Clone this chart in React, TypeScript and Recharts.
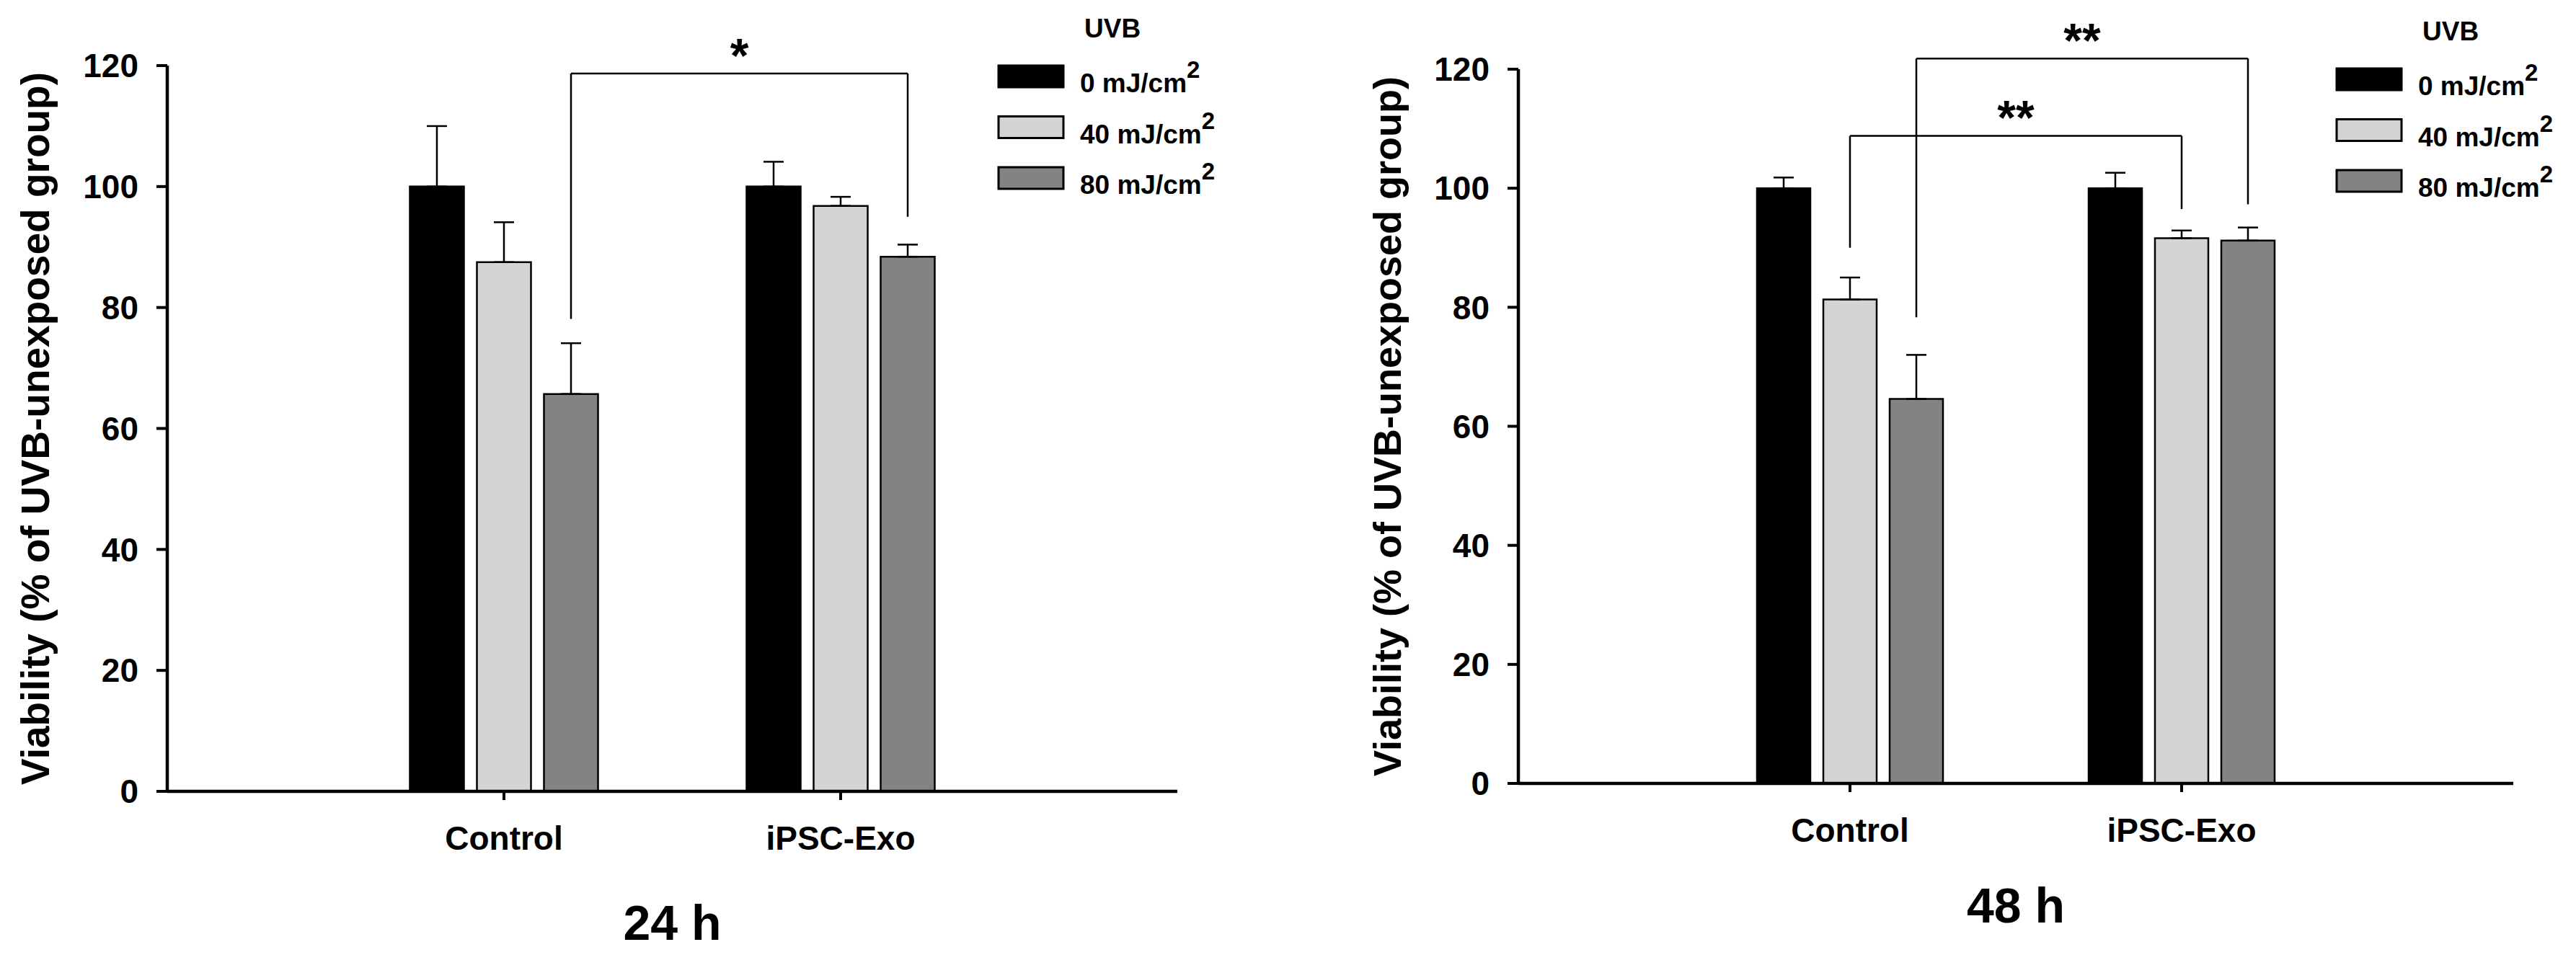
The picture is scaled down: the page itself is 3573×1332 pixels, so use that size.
import React from 'react';
import { BarChart, Bar, XAxis, YAxis, ErrorBar, ReferenceLine, ReferenceDot, Legend } from 'recharts';

const FONT = '"Liberation Sans", Arial, Helvetica, sans-serif';

// categories
const groups = ['Control', 'iPSC-Exo'];
const groupPositions = [1, 2];
const doses = ['0', '40', '80'];
const doseColors = ['#000000', '#d4d4d4', '#838383'];
const yTicks = [0, 20, 40, 60, 80, 100, 120];

// 24 h : mean viability (% of UVB-unexposed) per group, one array per UVB dose
const mean24_0 = [100, 100];
const mean24_40 = [87.5, 96.8];
const mean24_80 = [65.7, 88.4];
const err24_0 = [10.0, 4.1];
const err24_40 = [6.6, 1.5];
const err24_80 = [8.4, 2.0];

// 48 h
const mean48_0 = [100, 100];
const mean48_40 = [81.3, 91.6];
const mean48_80 = [64.6, 91.2];
const err48_0 = [1.8, 2.6];
const err48_40 = [3.7, 1.3];
const err48_80 = [7.4, 2.2];

// significance brackets: [group, dose] endpoints, bracket level, leg ends, mark
const brackets24 = [
  { from: [0, 2], to: [1, 2], y: 118.7, yFrom: 78.1, yTo: 95.0, mark: '*' },
];
const brackets48 = [
  { from: [0, 1], to: [1, 1], y: 108.8, yFrom: 90.0, yTo: 96.5, mark: '**' },
  { from: [0, 2], to: [1, 2], y: 121.8, yFrom: 78.3, yTo: 97.3, mark: '**' },
];

const BAR_GAP = 18;
const H = 1332;

type PanelProps = {
  left: number;
  width: number;
  plotLeft: number;
  plotRight: number;
  plotTop: number;
  plotBottom: number;
  barSize: number;
  means: number[][];
  errs: number[][];
  brackets: { from: number[]; to: number[]; y: number; yFrom: number; yTo: number; mark: string }[];
  subtitle: string;
  titleBaselineX: number;
  titleSize: number;
  subBaseline: number;
  legendLeft: number;
  legendTop: number;
};

const tickStyle = { fill: '#000', fontSize: 46, fontWeight: 700, fontFamily: FONT };

function renderLegend(props: any) {
  const payload = props.payload || [];
  return (
    <svg width={420} height={300} style={{ display: 'block', overflow: 'visible' }}>
      <text x={124} y={52} fontSize={37} fontWeight={700} fontFamily={FONT} fill="#000">
        UVB
      </text>
      {payload.map((p: any, i: number) => {
        const label = String(p.value);
        const base = label.replace('²', '');
        return (
          <g key={i}>
            <rect x={5} y={91 + i * 70.5} width={90} height={30} fill={doseColors[i]} stroke="#000" strokeWidth={3} />
            <text x={118} y={128 + i * 70.5} fontSize={37} fontWeight={700} fontFamily={FONT} fill="#000">
              {base}
              <tspan dy={-20} fontSize={33}>2</tspan>
            </text>
          </g>
        );
      })}
    </svg>
  );
}

function Panel(p: PanelProps) {
  const data = groups.map((g, i) => {
    const row: any = { x: groupPositions[i], name: g };
    doses.forEach((d, k) => {
      row['v' + k] = p.means[k][i];
      row['e' + k] = [0, p.errs[k][i]];
    });
    return row;
  });
  const unit = (p.plotRight - p.plotLeft) / 3;
  const step = (p.barSize + BAR_GAP) / unit;
  const xOf = (gs: number[]) => groupPositions[gs[0]] + (gs[1] - 1) * step;

  return (
    <div style={{ position: 'absolute', left: p.left, top: 0, width: p.width, height: H }}>
      <BarChart
        width={p.width}
        height={H}
        data={data}
        margin={{ top: p.plotTop, right: p.left + p.width - p.plotRight, bottom: 0, left: 0 }}
        barGap={BAR_GAP}
        barSize={p.barSize}
      >
        <XAxis
          dataKey="x"
          type="number"
          domain={[0, 3]}
          ticks={groupPositions}
          interval={0}
          tickFormatter={(v: number) => groups[groupPositions.indexOf(v)] ?? ''}
          height={H - p.plotBottom}
          axisLine={{ stroke: '#000', strokeWidth: 4.5 }}
          tickLine={{ stroke: '#000', strokeWidth: 4 }}
          tickSize={12}
          tickMargin={36}
          tick={tickStyle}
          label={{
            content: (lp: any) => {
              const vb = lp.viewBox || {};
              return (
                <text
                  x={vb.x + vb.width / 2}
                  y={vb.y + p.subBaseline}
                  textAnchor="middle"
                  fontSize={68}
                  fontWeight={700}
                  fontFamily={FONT}
                  fill="#000"
                >
                  {p.subtitle}
                </text>
              );
            },
          }}
        />
        <YAxis
          type="number"
          domain={[0, 120]}
          ticks={yTicks}
          interval={0}
          width={p.plotLeft - p.left}
          axisLine={{ stroke: '#000', strokeWidth: 4.5 }}
          tickLine={{ stroke: '#000', strokeWidth: 4 }}
          tickSize={15}
          tickMargin={25}
          tick={tickStyle}
          label={{
            content: (lp: any) => {
              const vb = lp.viewBox || {};
              const cy = vb.y + vb.height / 2;
              const cx = p.titleBaselineX;
              return (
                <text
                  x={cx}
                  y={cy}
                  transform={`rotate(-90, ${cx}, ${cy})`}
                  textAnchor="middle"
                  fontSize={p.titleSize}
                  fontWeight={700}
                  fontFamily={FONT}
                  fill="#000"
                >
                  Viability (% of UVB-unexposed group)
                </text>
              );
            },
          }}
        />
        {doses.map((d, k) => (
          <Bar
            key={d}
            dataKey={'v' + k}
            name={`${d} mJ/cm²`}
            fill={doseColors[k]}
            stroke="#000"
            strokeWidth={2.5}
            isAnimationActive={false}
          >
            <ErrorBar dataKey={'e' + k} width={14} strokeWidth={2.5} stroke="#000" direction="y" />
          </Bar>
        ))}
        {p.brackets.map((b, i) => {
          const x1 = xOf(b.from);
          const x2 = xOf(b.to);
          return [
            <ReferenceLine
              key={`l${i}`}
              segment={[{ x: x1, y: b.yFrom }, { x: x1, y: b.y }]}
              stroke="#000"
              strokeWidth={2.5}
              ifOverflow="visible"
            />,
            <ReferenceLine
              key={`h${i}`}
              segment={[{ x: x1, y: b.y }, { x: x2, y: b.y }]}
              stroke="#000"
              strokeWidth={2.5}
              ifOverflow="visible"
            />,
            <ReferenceLine
              key={`r${i}`}
              segment={[{ x: x2, y: b.y }, { x: x2, y: b.yTo }]}
              stroke="#000"
              strokeWidth={2.5}
              ifOverflow="visible"
            />,
            <ReferenceDot
              key={`m${i}`}
              x={(x1 + x2) / 2}
              y={b.y}
              r={0}
              fill="none"
              stroke="none"
              ifOverflow="visible"
              label={{
                content: (lp: any) => {
                  const vb = lp.viewBox || {};
                  return (
                    <text
                      x={vb.x + (vb.width || 0) / 2}
                      y={vb.y - 2}
                      textAnchor="middle"
                      fontSize={66}
                      fontWeight={700}
                      fontFamily={FONT}
                      fill="#000"
                    >
                      {b.mark}
                    </text>
                  );
                },
              }}
            />,
          ];
        })}
        <Legend
          layout="vertical"
          align="center"
          verticalAlign="middle"
          wrapperStyle={{ left: p.legendLeft, top: p.legendTop, width: 420, height: 300 }}
          content={renderLegend}
        />
      </BarChart>
    </div>
  );
}

export default function App() {
  return (
    <div style={{ position: 'absolute', left: 0, top: 0, width: 3573, height: H, background: '#fff', fontFamily: FONT }}>
      <Panel
        left={0}
        width={1790}
        plotLeft={232}
        plotRight={1633}
        plotTop={91}
        plotBottom={1098}
        barSize={75}
        means={[mean24_0, mean24_40, mean24_80]}
        errs={[err24_0, err24_40, err24_80]}
        brackets={brackets24}
        subtitle="24 h"
        titleBaselineX={68}
        titleSize={55}
        subBaseline={206}
        legendLeft={1380}
        legendTop={0}
      />
      <Panel
        left={1790}
        width={1783}
        plotLeft={2106}
        plotRight={3486}
        plotTop={96}
        plotBottom={1087}
        barSize={74}
        means={[mean48_0, mean48_40, mean48_80]}
        errs={[err48_0, err48_40, err48_80]}
        brackets={brackets48}
        subtitle="48 h"
        titleBaselineX={153}
        titleSize={54}
        subBaseline={193}
        legendLeft={1446}
        legendTop={4}
      />
    </div>
  );
}
